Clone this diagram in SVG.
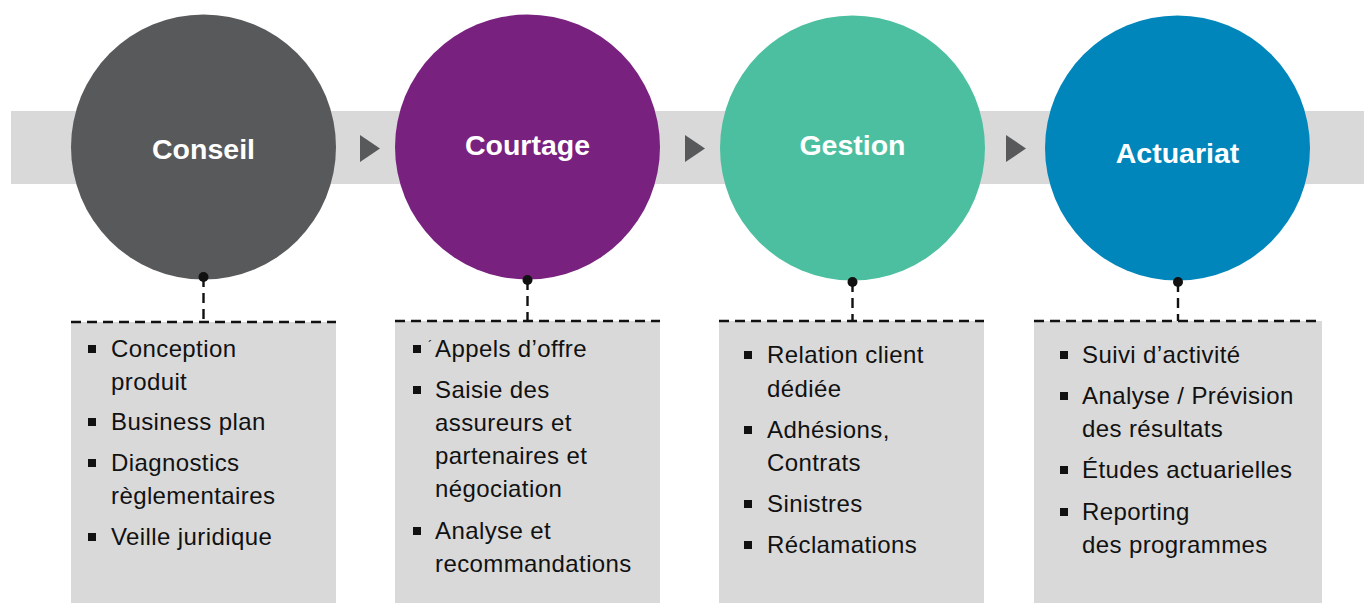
<svg xmlns="http://www.w3.org/2000/svg" width="1364" height="603" viewBox="0 0 1364 603">
<style>
.title{font-family:"Liberation Sans",Arial,sans-serif;font-weight:bold;font-size:28.5px;fill:#fff;text-anchor:middle}
.item{font-family:"Liberation Sans",Arial,sans-serif;font-size:24px;letter-spacing:0.4px;fill:#111}
.box{fill:#d9d9d9}
.dash{stroke:#111;stroke-width:2.4;stroke-dasharray:10 6;fill:none}
.dot{fill:#111}
.bul{fill:#111}
.tri{fill:#58595b}
</style>
<rect x="11" y="111" width="1353" height="73" fill="#d9d9d9"/>
<g id="arrows">
<polygon class="tri" points="360,135 380,148.5 360,162"/>
<polygon class="tri" points="685,135 705,148.5 685,162"/>
<polygon class="tri" points="1006,135 1026,148.5 1006,162"/>
</g>
<g id="node-conseil">
<circle cx="203.5" cy="147" r="132.5" fill="#58595b"/>
<text class="title" x="203.5" y="159">Conseil</text>
</g>
<g id="node-courtage">
<circle cx="527.5" cy="147" r="132.5" fill="#78217f"/>
<text class="title" x="527.5" y="155">Courtage</text>
</g>
<g id="node-gestion">
<circle cx="852.5" cy="148" r="132.5" fill="#4bbf9f"/>
<text class="title" x="852.5" y="155">Gestion</text>
</g>
<g id="node-actuariat">
<circle cx="1177.5" cy="148" r="132.5" fill="#0086bb"/>
<text class="title" x="1177.5" y="163">Actuariat</text>
</g>
<g id="box-conseil">
<rect class="box" x="71" y="322" width="265" height="281"/>
<rect class="bul" x="88" y="345" width="8" height="8"/>
<text class="item" x="111" y="357">Conception</text>
<text class="item" x="111" y="390">produit</text>
<rect class="bul" x="88" y="418" width="8" height="8"/>
<text class="item" x="111" y="430">Business plan</text>
<rect class="bul" x="88" y="459" width="8" height="8"/>
<text class="item" x="111" y="471">Diagnostics</text>
<text class="item" x="111" y="504">règlementaires</text>
<rect class="bul" x="88" y="533" width="8" height="8"/>
<text class="item" x="111" y="545">Veille juridique</text>
</g>
<g id="box-courtage">
<rect class="box" x="395" y="321" width="265" height="282"/>
<rect class="bul" x="413" y="345" width="8" height="8"/>
<text class="item" x="428" y="350" style="font-size:13px">´</text>
<text class="item" x="435" y="357">Appels d’offre</text>
<rect class="bul" x="413" y="386" width="8" height="8"/>
<text class="item" x="435" y="398">Saisie des</text>
<text class="item" x="435" y="431">assureurs et</text>
<text class="item" x="435" y="464">partenaires et</text>
<text class="item" x="435" y="497">négociation</text>
<rect class="bul" x="413" y="527" width="8" height="8"/>
<text class="item" x="435" y="539">Analyse et</text>
<text class="item" x="435" y="572">recommandations</text>
</g>
<g id="box-gestion">
<rect class="box" x="719" y="321" width="265" height="282"/>
<rect class="bul" x="744" y="351" width="8" height="8"/>
<text class="item" x="767" y="363">Relation client</text>
<text class="item" x="767" y="397">dédiée</text>
<rect class="bul" x="744" y="426" width="8" height="8"/>
<text class="item" x="767" y="438">Adhésions,</text>
<text class="item" x="767" y="471">Contrats</text>
<rect class="bul" x="744" y="500" width="8" height="8"/>
<text class="item" x="767" y="512">Sinistres</text>
<rect class="bul" x="744" y="541" width="8" height="8"/>
<text class="item" x="767" y="553">Réclamations</text>
</g>
<g id="box-actuariat">
<rect class="box" x="1034" y="321" width="288" height="282"/>
<rect class="bul" x="1060" y="351" width="8" height="8"/>
<text class="item" x="1082" y="363">Suivi d’activité</text>
<rect class="bul" x="1060" y="392" width="8" height="8"/>
<text class="item" x="1082" y="404">Analyse / Prévision</text>
<text class="item" x="1082" y="437">des résultats</text>
<rect class="bul" x="1060" y="466" width="8" height="8"/>
<text class="item" x="1082" y="478">Études actuarielles</text>
<rect class="bul" x="1060" y="508" width="8" height="8"/>
<text class="item" x="1082" y="520">Reporting</text>
<text class="item" x="1082" y="553">des programmes</text>
</g>
<g id="connectors">
<line class="dash" x1="71" y1="322" x2="336" y2="322"/>
<line class="dash" x1="395" y1="321" x2="660" y2="321"/>
<line class="dash" x1="719" y1="321" x2="984" y2="321"/>
<line class="dash" x1="1034" y1="321" x2="1322" y2="321"/>
<line class="dash" x1="203.5" y1="277" x2="203.5" y2="322"/>
<line class="dash" x1="527.5" y1="280" x2="527.5" y2="321"/>
<line class="dash" x1="852.5" y1="282" x2="852.5" y2="321"/>
<line class="dash" x1="1178" y1="282" x2="1178" y2="321"/>
<circle class="dot" cx="203.5" cy="277" r="5"/>
<circle class="dot" cx="527.5" cy="280" r="5"/>
<circle class="dot" cx="852.5" cy="282" r="5"/>
<circle class="dot" cx="1178" cy="282" r="5"/>
</g>
</svg>
